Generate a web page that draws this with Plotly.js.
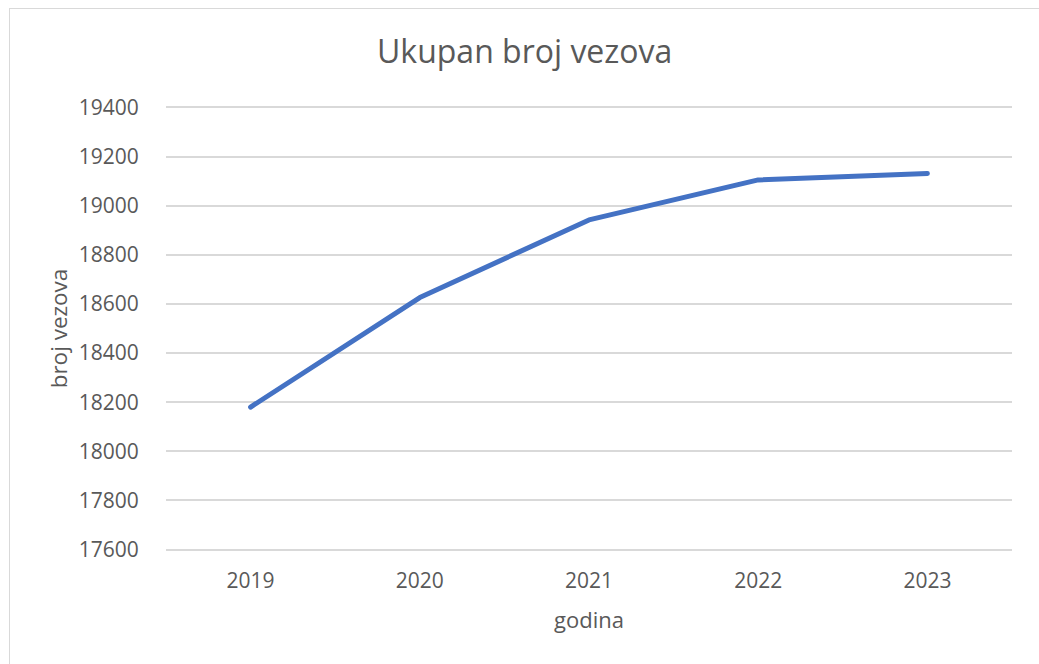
<!DOCTYPE html>
<html>
<head>
<meta charset="utf-8">
<script src="https://cdn.plot.ly/plotly-3.0.1.min.js"></script>
<style>
  html, body { margin: 0; padding: 0; background: #fff; }
  #wrap { position: relative; width: 1039px; height: 664px; }
  #chart { width: 1039px; height: 664px; }
  #frame { position: absolute; left: 9px; top: 8px; width: 1040px; height: 670px;
           border-left: 1px solid #d9d9d9; border-top: 1px solid #d9d9d9; pointer-events: none; }
  .js-line { stroke-linecap: round !important; stroke-linejoin: round !important; }
</style>
</head>
<body>
<div id="wrap">
  <div id="chart"></div>
  <div id="frame"></div>
</div>
<script>
const years = ["2019", "2020", "2021", "2022", "2023"];
const vezovi = [18180, 18626, 18942, 19105, 19131];
const yTicks = [17600, 17800, 18000, 18200, 18400, 18600, 18800, 19000, 19200, 19400];
const chartTitle = "Ukupan broj vezova";
const xTitle = "godina";
const yTitle = "broj vezova";

const textColor = "#595959";
const font = "'Open Sans', 'Noto Sans', sans-serif";

Plotly.newPlot("chart", [{
  x: years,
  y: vezovi,
  type: "scatter",
  mode: "lines",
  line: { color: "#4472c4", width: 5, shape: "linear" },
  hoverinfo: "x+y"
}], {
  width: 1039, height: 664,
  margin: { l: 166, r: 27, t: 105, b: 112, pad: 0 },
  paper_bgcolor: "#ffffff",
  plot_bgcolor: "#ffffff",
  showlegend: false,
  font: { family: font, color: textColor, size: 21 },
  title: {
    text: chartTitle,
    font: { family: font, size: 32, color: textColor },
    x: 0.505, xanchor: "center",
    y: 0.922, yanchor: "middle"
  },
  xaxis: {
    type: "category",
    range: [-0.5, 4.5],
    showgrid: false,
    zeroline: false,
    showline: false,
    ticks: "outside", ticklen: 10, tickcolor: "rgba(0,0,0,0)",
    tickfont: { family: font, size: 21, color: textColor },
    title: { text: xTitle, font: { family: font, size: 22, color: textColor }, standoff: 19 }
  },
  yaxis: {
    range: [17590, 19410],
    tickvals: yTicks,
    ticktext: yTicks.map(String),
    showgrid: true, gridcolor: "#d9d9d9", gridwidth: 2,
    zeroline: false, showline: false,
    ticks: "outside", ticklen: 22, tickcolor: "rgba(0,0,0,0)",
    tickfont: { family: font, size: 21, color: textColor },
    title: { text: yTitle, font: { family: font, size: 22.5, color: textColor }, standoff: 4 }
  }
}, { displayModeBar: false, staticPlot: true });
</script>
</body>
</html>
